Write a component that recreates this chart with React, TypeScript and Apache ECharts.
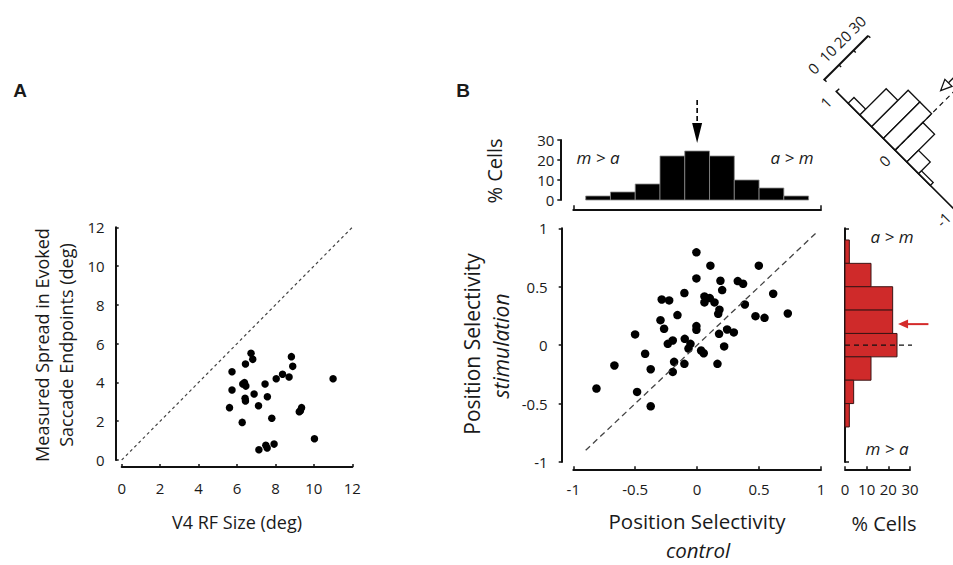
import React, { useEffect, useRef } from "react";
import * as echarts from "echarts";

const FONT = "Open Sans";

// ---------- Panel A data ----------
const aRfSize = [6.73, 6.82, 6.44, 5.74, 8.83, 8.9, 8.37, 8.71, 8.04, 11.0, 6.39, 6.3, 6.46, 7.46, 5.74, 6.89, 7.58, 6.42, 6.44, 7.12, 5.61, 9.36, 9.3, 9.24, 7.81, 6.27, 10.03, 7.93, 7.5, 7.57, 7.14];
const aSpread = [5.5, 5.19, 4.95, 4.55, 5.33, 4.83, 4.42, 4.28, 4.19, 4.19, 3.99, 3.92, 3.81, 3.92, 3.61, 3.4, 3.26, 3.18, 3.04, 2.8, 2.7, 2.7, 2.54, 2.49, 2.15, 1.94, 1.1, 0.82, 0.76, 0.62, 0.53];
const aUnityLine = [0, 12];

// ---------- Panel B data ----------
const bControl = [-0.006, 0.107, 0.498, -0.006, 0.188, 0.328, 0.371, 0.202, -0.103, 0.614, 0.059, 0.102, -0.286, -0.226, 0.059, 0.14, 0.385, 0.18, 0.732, 0.17, -0.159, 0.471, 0.544, -0.296, -0.006, -0.267, -0.006, 0.242, 0.296, 0.177, -0.501, -0.1, -0.197, -0.237, -0.054, -0.07, 0.218, 0.032, 0.053, -0.42, -0.186, -0.103, 0.164, -0.668, -0.375, -0.197, -0.813, -0.485, -0.375];
const bStim = [0.794, 0.68, 0.68, 0.571, 0.551, 0.548, 0.525, 0.471, 0.446, 0.44, 0.417, 0.403, 0.391, 0.383, 0.366, 0.366, 0.348, 0.303, 0.271, 0.268, 0.257, 0.248, 0.234, 0.214, 0.163, 0.14, 0.131, 0.134, 0.109, 0.097, 0.092, 0.054, 0.04, 0.011, 0.011, -0.029, -0.011, -0.046, -0.069, -0.074, -0.143, -0.16, -0.16, -0.174, -0.206, -0.229, -0.371, -0.4, -0.523];
const bUnityLine = [-0.9, 0.97];

// histogram of control selectivity (top)
const topHistEdges = [-0.9, -0.7, -0.5, -0.3, -0.1, 0.1, 0.3, 0.5, 0.7, 0.9];
const topHistPct = [2, 4, 8, 22, 24.5, 22, 10, 6, 2];
const meanControl = 0;

// histogram of stimulation selectivity (right)
const rightHistEdges = [0.9, 0.7, 0.5, 0.3, 0.1, -0.1, -0.3, -0.5, -0.7];
const rightHistPct = [2, 12, 22, 22, 24, 12, 4, 2];
const meanStim = 0.18;

// histogram along the diagonal (rotated, top right)
const diagHistEdges = [0.8, 0.6, 0.4, 0.2, 0, -0.2, -0.4, -0.6];
const diagHistPct = [4, 18, 25, 25, 19, 8, 2];
const meanDiff = 0.12;
const diagValueTicks = [1, 0, -1];
const pctTicks = [0, 10, 20, 30];

const INK = "#111";
const LABEL = { color: "#1a1a1a", fontSize: 15, fontFamily: FONT };

function axisBase(extra: any) {
  return {
    type: "value",
    splitLine: { show: false },
    axisLine: { show: true, onZero: false, lineStyle: { color: INK, width: 2 } },
    axisTick: { show: true, inside: true, length: 3, lineStyle: { color: INK, width: 1.5 } },
    axisLabel: { ...LABEL },
    ...extra,
  };
}

function txt(text: string, x: number, y: number, opts: any = {}) {
  return {
    type: "text",
    x,
    y,
    rotation: opts.rotation || 0,
    style: {
      text,
      fill: "#1a1a1a",
      fontFamily: opts.family || FONT,
      fontSize: opts.size || 18,
      fontStyle: opts.italic ? "italic" : "normal",
      fontWeight: opts.bold ? "bold" : "normal",
      align: "center",
      verticalAlign: "middle",
    },
  };
}

function buildOption() {
  return {
    animation: false,
    backgroundColor: "#fff",
    grid: [
      { left: 121.7, top: 227.3, width: 230.6, height: 232.7 },
      { left: 573.3, top: 228.3, width: 247.7, height: 233.7 },
      { left: 573.3, top: 140, width: 247.7, height: 60 },
      { left: 845, top: 228.3, width: 65, height: 233.7 },
      { left: 836.5, top: 91.5, width: 62, height: 166 },
    ],
    xAxis: [
      axisBase({ gridIndex: 0, min: 0, max: 12, interval: 2, offset: 7, axisLabel: { ...LABEL, margin: 13 } }),
      axisBase({ gridIndex: 1, min: -1, max: 1, interval: 0.5, offset: 7.3, axisLabel: { ...LABEL, margin: 12 } }),
      axisBase({ gridIndex: 2, min: -1, max: 1, interval: 2, offset: 9.3, axisTick: { show: true, inside: true, length: 4, lineStyle: { color: INK, width: 1.5 } }, axisLabel: { show: false } }),
      axisBase({ gridIndex: 3, min: 0, max: 30, interval: 10, offset: 7.3, axisLabel: { ...LABEL, margin: 12 } }),
      { gridIndex: 4, type: "value", min: 0, max: 30, show: false },
    ],
    yAxis: [
      axisBase({ gridIndex: 0, min: 0, max: 12, interval: 2, offset: 6, axisLabel: { ...LABEL, margin: 11 } }),
      axisBase({ gridIndex: 1, min: -1, max: 1, interval: 0.5, offset: 11.6, axisTick: { show: true, inside: false, length: 3, lineStyle: { color: INK, width: 1.5 } }, axisLabel: { ...LABEL, margin: 14 } }),
      axisBase({ gridIndex: 2, min: 0, max: 30, interval: 10, offset: 13, axisTick: { show: true, inside: false, length: 3, lineStyle: { color: INK, width: 1.5 } }, axisLabel: { ...LABEL, margin: 6 } }),
      axisBase({ gridIndex: 3, min: -1, max: 1, interval: 2, offset: 0, axisTick: { show: true, inside: true, length: 4, lineStyle: { color: INK, width: 1.5 } }, axisLabel: { show: false } }),
      { gridIndex: 4, type: "value", min: -1, max: 1, show: false },
    ],
    series: [
      {
        type: "scatter",
        xAxisIndex: 0,
        yAxisIndex: 0,
        symbolSize: 7.5,
        itemStyle: { color: "#000", opacity: 1 },
        data: aRfSize.map((x, i) => [x, aSpread[i]]),
      },
      {
        type: "line",
        xAxisIndex: 0,
        yAxisIndex: 0,
        symbol: "none",
        lineStyle: { color: "#444", width: 1.2, type: [3, 3] },
        data: aUnityLine.map((v) => [v, v]),
      },
      {
        type: "scatter",
        xAxisIndex: 1,
        yAxisIndex: 1,
        symbolSize: 8.5,
        itemStyle: { color: "#000", opacity: 1 },
        data: bControl.map((x, i) => [x, bStim[i]]),
      },
      {
        type: "line",
        xAxisIndex: 1,
        yAxisIndex: 1,
        symbol: "none",
        lineStyle: { color: "#444", width: 1.3, type: [6, 4] },
        data: bUnityLine.map((v) => [v, v]),
      },
      // top histogram
      {
        type: "custom",
        xAxisIndex: 2,
        yAxisIndex: 2,
        data: topHistPct.map((p, i) => [topHistEdges[i], topHistEdges[i + 1], p]),
        renderItem: (params: any, api: any) => {
          const a = api.coord([api.value(0), api.value(2)]);
          const b = api.coord([api.value(1), 0]);
          return {
            type: "rect",
            shape: { x: a[0], y: a[1], width: b[0] - a[0], height: b[1] - a[1] },
            style: { fill: "#000", stroke: "#8a8a8a", lineWidth: 0.8 },
          };
        },
      },
      // top arrow
      {
        type: "custom",
        xAxisIndex: 2,
        yAxisIndex: 2,
        data: [[meanControl, 0]],
        renderItem: (params: any, api: any) => {
          const m = api.value(0);
          const top = api.coord([m, 50]);
          const base = api.coord([m, 38.5]);
          const tip = api.coord([m, 28.5]);
          return {
            type: "group",
            children: [
              { type: "line", shape: { x1: top[0], y1: top[1], x2: base[0], y2: base[1] }, style: { stroke: "#000", lineWidth: 1.6, lineDash: [5, 3] } },
              { type: "polygon", shape: { points: [[base[0] - 5, base[1]], [base[0] + 5, base[1]], [tip[0], tip[1]]] }, style: { fill: "#000" } },
            ],
          };
        },
      },
      // right histogram
      {
        type: "custom",
        xAxisIndex: 3,
        yAxisIndex: 3,
        data: rightHistPct.map((p, i) => [rightHistEdges[i], rightHistEdges[i + 1], p]),
        renderItem: (params: any, api: any) => {
          const a = api.coord([0, api.value(0)]);
          const b = api.coord([api.value(2), api.value(1)]);
          return {
            type: "rect",
            shape: { x: a[0], y: a[1], width: b[0] - a[0], height: b[1] - a[1] },
            style: { fill: "#cf2a2a", stroke: "#3b1414", lineWidth: 1 },
          };
        },
      },
      {
        type: "line",
        xAxisIndex: 3,
        yAxisIndex: 3,
        symbol: "none",
        clip: false,
        lineStyle: { color: "#111", width: 1.2, type: [5, 4] },
        data: [[0, 0], [41, 0]],
      },
      // right arrow
      {
        type: "custom",
        xAxisIndex: 3,
        yAxisIndex: 3,
        data: [[0, meanStim]],
        renderItem: (params: any, api: any) => {
          const m = api.value(1);
          const tail = api.coord([38.5, m]);
          const tip = api.coord([24.5, m]);
          return {
            type: "group",
            children: [
              { type: "line", shape: { x1: tail[0], y1: tail[1], x2: tip[0] + 8, y2: tip[1] }, style: { stroke: "#d42a2a", lineWidth: 2 } },
              { type: "polygon", shape: { points: [[tip[0], tip[1]], [tip[0] + 10, tip[1] - 4.5], [tip[0] + 10, tip[1] + 4.5]] }, style: { fill: "#d42a2a" } },
            ],
          };
        },
      },
      // rotated histogram
      {
        type: "custom",
        xAxisIndex: 4,
        yAxisIndex: 4,
        data: diagHistPct.map((p, i) => [diagHistEdges[i], diagHistEdges[i + 1], p]),
        renderItem: (params: any, api: any) => {
          const pivot = api.coord([0, 1]);
          const a = api.coord([0, api.value(0)]);
          const b = api.coord([api.value(2), api.value(1)]);
          return {
            type: "rect",
            rotation: Math.PI / 4,
            originX: pivot[0],
            originY: pivot[1],
            shape: { x: a[0], y: a[1], width: b[0] - a[0], height: b[1] - a[1] },
            style: { fill: "#fff", stroke: "#111", lineWidth: 1.3 },
          };
        },
      },
      // rotated axes, labels and markers
      {
        type: "custom",
        xAxisIndex: 4,
        yAxisIndex: 4,
        data: [[0, meanDiff]],
        renderItem: (params: any, api: any) => {
          const pivot = api.coord([0, 1]);
          const end = api.coord([0, -1.3]);
          const children: any[] = [];
          children.push({ type: "line", shape: { x1: pivot[0], y1: pivot[1] - 1, x2: end[0], y2: end[1] }, style: { stroke: INK, lineWidth: 1.6 } });
          children.push({ type: "line", shape: { x1: pivot[0], y1: pivot[1], x2: pivot[0] + 4, y2: pivot[1] }, style: { stroke: INK, lineWidth: 1.4 } });
          diagValueTicks.forEach((v) => {
            const p = api.coord([0, v]);
            children.push({ type: "text", x: p[0] - 15, y: p[1], style: { text: String(v), fill: "#1a1a1a", fontFamily: FONT, fontSize: 15, align: "center", verticalAlign: "middle" } });
          });
          const cy = pivot[1] - 17;
          const c0 = api.coord([0, 1]);
          const c30 = api.coord([30, 1]);
          children.push({ type: "line", shape: { x1: c0[0] - 1, y1: cy, x2: c30[0], y2: cy }, style: { stroke: INK, lineWidth: 2 } });
          pctTicks.forEach((t) => {
            const p = api.coord([t, 1]);
            children.push({ type: "line", shape: { x1: p[0], y1: cy, x2: p[0], y2: cy + 3 }, style: { stroke: INK, lineWidth: 1.4 } });
            children.push({ type: "text", x: p[0], y: cy - 16, style: { text: String(t), fill: "#1a1a1a", fontFamily: FONT, fontSize: 15, align: "center", verticalAlign: "middle" } });
          });
          const z0 = api.coord([0, 0]);
          const z1 = api.coord([80, 0]);
          children.push({ type: "line", shape: { x1: z0[0], y1: z0[1], x2: z1[0], y2: z1[1] }, style: { stroke: INK, lineWidth: 1.2, lineDash: [5, 4] } });
          const m = api.value(1);
          const tip = api.coord([36, m]);
          const tail = api.coord([90, m]);
          children.push({ type: "line", shape: { x1: tip[0] + 10, y1: tip[1], x2: tail[0], y2: tail[1] }, style: { stroke: INK, lineWidth: 1.3 } });
          children.push({ type: "polygon", shape: { points: [[tip[0], tip[1]], [tip[0] + 11, tip[1] - 5], [tip[0] + 11, tip[1] + 5]] }, style: { fill: "#fff", stroke: INK, lineWidth: 1.3 } });
          return { type: "group", rotation: Math.PI / 4, originX: pivot[0], originY: pivot[1], children };
        },
      },
    ],
    graphic: [
      txt("A", 20, 90, { bold: true, size: 19, family: "Liberation Sans" }),
      txt("B", 463, 90, { bold: true, size: 19, family: "Liberation Sans" }),
      txt("V4 RF Size (deg)", 237, 522, { size: 18 }),
      txt("Measured Spread in Evoked", 42, 345, { rotation: Math.PI / 2, size: 18 }),
      txt("Saccade Endpoints (deg)", 66, 345, { rotation: Math.PI / 2, size: 18 }),
      txt("Position Selectivity", 472, 344, { rotation: Math.PI / 2, size: 21 }),
      txt("stimulation", 501, 346, { rotation: Math.PI / 2, size: 21, italic: true }),
      txt("Position Selectivity", 697, 521, { size: 20.5 }),
      txt("control", 698, 550, { size: 20.5, italic: true }),
      txt("% Cells", 494, 171, { rotation: Math.PI / 2, size: 20 }),
      txt("% Cells", 884, 523, { size: 20 }),
      txt("m > a", 598, 157, { italic: true, size: 17 }),
      txt("a > m", 792, 157, { italic: true, size: 17 }),
      txt("a > m", 892, 236, { italic: true, size: 17 }),
      txt("m > a", 887, 448, { italic: true, size: 17 }),
    ],
  };
}

export default function App() {
  const ref = useRef<HTMLDivElement>(null);
  useEffect(() => {
    const chart = echarts.init(ref.current!, null, { renderer: "svg" });
    chart.setOption(buildOption() as any);
    return () => chart.dispose();
  }, []);
  return (
    <div
      ref={ref}
      style={{ position: "fixed", left: 0, top: 0, width: 953, height: 565, background: "#fff" }}
    />
  );
}
